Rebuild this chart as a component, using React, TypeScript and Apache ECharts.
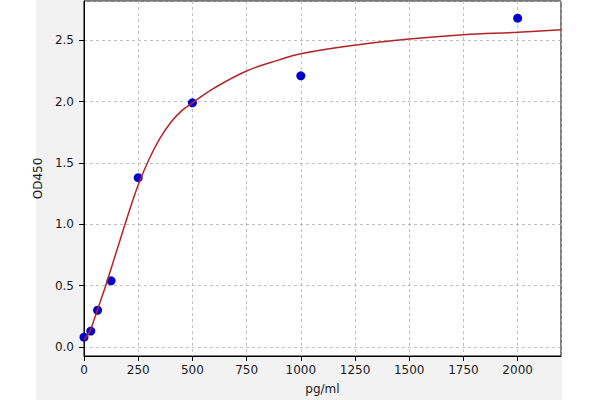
import { useEffect, useRef } from "react";
import * as echarts from "echarts";

// standard points (pg/ml, OD450)
const stdConc = [0, 31.25, 62.5, 125, 250, 500, 1000, 2000];
const stdOd = [0.08, 0.13, 0.3, 0.54, 1.38, 1.99, 2.21, 2.68];

// fitted curve
const fitConc = [0, 25, 50, 75, 100, 150, 200, 250, 300, 350, 400, 450, 500, 600, 750, 900, 1000, 1250, 1500, 1750, 2000, 2200];
const fitOd = [0.06, 0.12, 0.24, 0.37, 0.5, 0.78, 1.06, 1.32, 1.53, 1.7, 1.83, 1.925, 1.99, 2.11, 2.25, 2.34, 2.39, 2.46, 2.51, 2.545, 2.565, 2.585];

const FONT = "DejaVu Sans";

export default function App() {
  const ref = useRef<HTMLDivElement>(null);

  useEffect(() => {
    if (!ref.current) return;
    const chart = echarts.init(ref.current, undefined, { renderer: "svg" });

    const gridLine = { show: true, lineStyle: { color: "#b0b0b0", type: [3, 3] as number[], width: 0.8 } };
    const axisText = { color: "#1a1a1a", fontFamily: FONT, fontSize: 12 };

    chart.setOption({
      animation: false,
      backgroundColor: "#ffffff",
      graphic: [
        {
          type: "rect",
          z: -10,
          silent: true,
          shape: { x: 36, y: 0, width: 526, height: 400 },
          style: { fill: "#f2f2f2" },
        },
      ],
      grid: {
        left: 84,
        top: 1,
        right: 39,
        bottom: 41,
        show: true,
        backgroundColor: "#ffffff",
        borderColor: "#000000",
        borderWidth: 1,
      },
      xAxis: {
        type: "value",
        min: 0,
        max: 2200,
        interval: 250,
        name: "pg/ml",
        nameLocation: "middle",
        nameGap: 27,
        nameTextStyle: axisText,
        axisLine: { show: true, onZero: false, lineStyle: { color: "#000", width: 1 } },
        axisTick: { show: true, length: 5, lineStyle: { color: "#000" } },
        axisLabel: { ...axisText, margin: 8, showMaxLabel: false, formatter: (v: number) => String(v) },
        splitLine: gridLine,
      },
      yAxis: {
        type: "value",
        min: -0.073,
        max: 2.82,
        splitNumber: 5,
        name: "OD450",
        nameLocation: "middle",
        nameGap: 33,
        nameTextStyle: axisText,
        axisLine: { show: true, onZero: false, lineStyle: { color: "#000", width: 1 } },
        axisTick: { show: true, length: 5, lineStyle: { color: "#000" } },
        axisLabel: {
          ...axisText,
          margin: 10,
          showMinLabel: false,
          showMaxLabel: false,
          formatter: (v: number) => v.toFixed(1),
        },
        splitLine: gridLine,
      },
      series: [
        {
          type: "scatter",
          data: stdConc.map((c, i) => [c, stdOd[i]]),
          symbolSize: 9,
          itemStyle: { color: "#0000cd", opacity: 1 },
          clip: false,
          z: 2,
        },
        {
          type: "line",
          data: fitConc.map((c, i) => [c, fitOd[i]]),
          smooth: 0.4,
          showSymbol: false,
          lineStyle: { color: "#b52327", width: 1.5 },
          z: 3,
        },
      ],
    });

    return () => chart.dispose();
  }, []);

  return (
    <div
      ref={ref}
      style={{ position: "fixed", left: 0, top: 0, width: 600, height: 400 }}
    />
  );
}
